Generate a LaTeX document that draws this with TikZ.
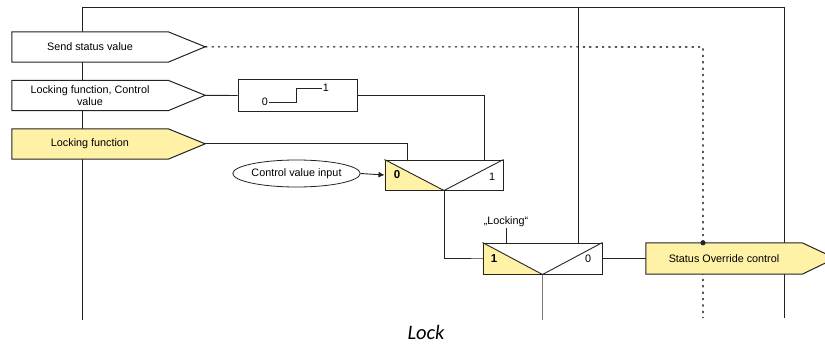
\documentclass[tikz,border=0pt]{standalone}
\usepackage{fontspec}
\setmainfont{Liberation Sans}
\newfontfamily\capfont{Carlito}
\usepackage{tikz}
\usetikzlibrary{calc,arrows.meta,shapes.geometric}
\usepackage{xcolor}

\definecolor{lockyellow}{RGB}{255,241,166}
\definecolor{wiregray}{RGB}{120,120,120}
\definecolor{wiredark}{RGB}{35,35,35}

\pgfdeclarelayer{back}
\pgfdeclarelayer{mid}
\pgfsetlayers{back,mid,main}

\tikzset{
    wire/.style={draw=wiredark, line width=0.9pt},
    dotwire/.style={draw=black, line width=1.1pt, dash pattern=on 2.2pt off 4.2pt},
    portbox/.style={minimum width=156pt, minimum height=30pt, inner sep=0pt, align=center},
    portshape/.style={draw=wiredark, line width=1pt},
    gatebox/.style={draw=wiredark, line width=1pt, minimum width=118pt, minimum height=30pt, inner sep=0pt},
    lbl/.style={inner sep=1pt},
}

\begin{document}
\begin{tikzpicture}[x=1pt, y=-1pt, font=\fontsize{10.8}{12}\selectfont]

    \useasboundingbox (0,0) rectangle (825,345);

    % frame
    \coordinate (tl) at (82,7);
    \coordinate (tm) at (578,7);
    \coordinate (tr) at (784,7);
    \coordinate (bl) at (82,320);
    \coordinate (br) at (784,318);

    % ports on the left
    \node[portbox] (send) at (90,47) {Send status value};
    \node[portbox] (lockval) at (90,95.5) {Locking function, Control\\value};
    \node[portbox] (lock) at (90,144) {Locking function};

    \begin{pgfonlayer}{mid}
    \foreach \p/\c in {send/white, lockval/white, lock/lockyellow} {
        \draw[portshape, fill=\c] (\p.north west) -- (\p.north east)
            --++(37,15) coordinate (\p tip)
            -- (\p.south east) -- (\p.south west) -- cycle;}
    \end{pgfonlayer}

    % step box
    \node[draw=wiredark, line width=1pt, minimum width=119pt, minimum height=31pt] (step) at (297.5,95.5) {};
    \node[lbl] (step0) at (265,102) {0};
    \node[lbl] (step1) at (326,88) {1};
    \draw[wire, line width=0.7pt] (step0.east) --++(27,0) |- (step1.west);

    \node[draw=wiredark, line width=0.8pt, ellipse, minimum width=117pt, minimum height=27pt, inner sep=0pt] (ctrl) at (296.5,173.5) {Control value input};

    % gates
    \node[gatebox] (gate1) at (444,175) {};
    \node[gatebox, minimum width=119pt, minimum height=31pt] (gate2) at (542.5,258.5) {};

    \begin{pgfonlayer}{mid}
    \foreach \g in {gate1, gate2} {
        \fill[lockyellow] (\g.north west) -- (\g.south) -- (\g.south west) -- cycle;
        \draw[wire] (\g.north west) -- (\g.south) -- (\g.north east);}
    \end{pgfonlayer}

    \node[lbl, font=\fontsize{11.5}{12}\selectfont\bfseries] (g1a) at (397,175) {0};
    \node[lbl] (g1b) at (492,177) {1};
    \node[lbl, font=\fontsize{11.5}{12}\selectfont\bfseries] (g2a) at (494,259) {1};
    \node[lbl] (g2b) at (588,259) {0};

    \node[lbl] (locklbl) at (506,222) {„Locking“};

    \node[portbox, minimum height=31pt] (status) at (724,258.5) {Status Override control};
    \begin{pgfonlayer}{mid}
    \draw[portshape, fill=lockyellow] (status.north west) -- (status.north east)
        --++(33,15.5) -- (status.south east) -- (status.south west) -- cycle;
    \end{pgfonlayer}

    % wires
    \begin{pgfonlayer}{back}
    \draw[wire] (bl) -- (tl) -- (tr) -- (br);
    \draw[wire] (tm) -- (tm |- gate2.north);
    \coordinate (dcorner) at (703,47);
    \draw[dotwire] (sendtip) -- (dcorner) -- (dcorner |- br);
    \end{pgfonlayer}

    \draw[wire] (lockvaltip) -- (step.west);
    \draw[wire] (step.east) -| ($(gate1.north east)+(-19,0)$);
    \draw[wire] (locktip) -| ($(gate1.north west)+(23,0)$);
    \draw[wire, -{Latex[length=6pt,width=6pt]}] (ctrl.east) -- (gate1.west);
    \draw[wire] (gate1.south) |- (gate2.west);
    \draw[wire, draw=wiregray] ($(gate2.west)+(-12,0)$) -- (gate2.west);
    \draw[wire] (locklbl.south) -- (locklbl.south |- gate2.north);
    \draw[wire] (gate2.east) -- (status.west);
    \draw[wire, draw=wiregray] (gate2.south) -- (gate2.south |- bl);
    \fill[wiredark] (dcorner |- status.north) circle (2.6pt);

    \node (caption) at (426,332) {\capfont\itshape\fontsize{20.5}{22}\selectfont Lock};

\end{tikzpicture}
\end{document}
